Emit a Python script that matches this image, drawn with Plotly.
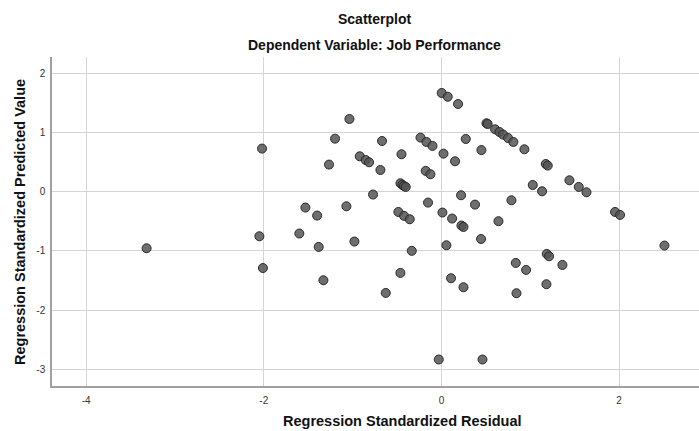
import plotly.graph_objects as go

# Regression standardized residual (x) and predicted value (y)
residual = [
    -3.32, -2.02, -2.05, -2.01,
    0.003, 0.071, 0.187, -1.036, -1.198, -0.669, -0.236, -0.169, -0.101, 0.274,
    0.45, -0.92, -0.853, -0.815, -1.266, -0.45, 0.023, 0.153, -0.687, -0.177,
    -0.124, -0.462, -0.44, -0.421, -0.402, -0.77, -0.151, 0.221, 0.378, -1.532,
    -1.40, -1.07, -0.485, -0.421, -0.357, 0.011, 0.12,
    -1.6, -1.382, -0.98, -1.329, -0.334, -0.462, -0.627, -0.03, 0.056, 0.108,
    0.248, 0.225, 0.248, 0.446,
    0.507, 0.52, 0.604, 0.653, 0.694, 0.75, 0.81, 0.934, 1.175, 1.197, 1.441,
    1.546, 1.633, 1.028, 1.133, 0.788, 0.642, 1.955, 2.011, 2.511, 1.186,
    1.212, 0.837, 0.953, 1.362, 1.182, 0.845, 0.462,
]
predicted = [
    -0.956, 0.725, -0.754, -1.29,
    1.663, 1.60, 1.477, 1.224, 0.893, 0.853, 0.91, 0.837, 0.77, 0.887,
    0.70, 0.595, 0.533, 0.494, 0.455, 0.629, 0.64, 0.511, 0.364, 0.348,
    0.292, 0.14, 0.112, 0.094, 0.078, -0.05, -0.186, -0.062, -0.22, -0.27,
    -0.405, -0.248, -0.344, -0.41, -0.467, -0.354, -0.455,
    -0.708, -0.934, -0.843, -1.496, -1.0, -1.372, -1.71, -2.833, -0.906, -1.462,
    -1.614, -0.573, -0.597, -0.80,
    1.152, 1.14, 1.05, 1.005, 0.961, 0.904, 0.837, 0.713, 0.465, 0.438, 0.19,
    0.078, -0.012, 0.111, 0.005, -0.147, -0.50, -0.344, -0.394, -0.911, -1.052,
    -1.091, -1.204, -1.322, -1.238, -1.563, -1.715, -2.833,
]

x_ticks = [-4, -2, 0, 2]
y_ticks = [-3, -2, -1, 0, 1, 2]

title_text = "Scatterplot"
subtitle_text = "Dependent Variable: Job Performance"
x_title = "Regression Standardized Residual"
y_title = "Regression Standardized Predicted Value"

FONT = "Liberation Sans, Arial, sans-serif"
W, H = 699, 431
ML, MR, MT, MB = 52, 0, 57, 45
PW, PH = W - ML - MR, H - MT - MB


def py(pix_y):
    return (H - MB - pix_y) / PH


def px(pix_x):
    return (pix_x - ML) / PW


fig = go.Figure(go.Scatter(
    x=residual, y=predicted, mode="markers",
    marker=dict(size=9, color="rgba(85,85,85,0.85)",
                line=dict(color="#2a2a2a", width=1)),
    hoverinfo="x+y",
))

fig.update_layout(
    width=W, height=H,
    margin=dict(l=ML, r=MR, t=MT, b=MB, autoexpand=False),
    paper_bgcolor="white", plot_bgcolor="white",
    showlegend=False,
    font=dict(family=FONT, color="#333333"),
    xaxis=dict(
        range=[-4.385, 2.90], tickvals=x_ticks, ticktext=[str(v) for v in x_ticks],
        showgrid=True, gridcolor="#d4d4d4", gridwidth=1,
        zeroline=False, showline=True, linecolor="#a0a0a0", linewidth=1.5,
        ticks="", tickfont=dict(size=10, color="#333333"), ticklabelstandoff=4,
    ),
    yaxis=dict(
        range=[-3.28, 2.27], tickvals=y_ticks, ticktext=[str(v) for v in y_ticks],
        showgrid=True, gridcolor="#d4d4d4", gridwidth=1,
        zeroline=False, showline=True, linecolor="#a0a0a0", linewidth=1.5,
        ticks="", tickfont=dict(size=10, color="#333333"), ticklabelstandoff=3,
    ),
    annotations=[
        dict(text=f"<b>{title_text}</b>", xref="paper", yref="paper",
             x=px(374), y=py(19), xanchor="center", yanchor="middle",
             showarrow=False, font=dict(size=14, color="#111111", family=FONT)),
        dict(text=f"<b>{subtitle_text}</b>", xref="paper", yref="paper",
             x=px(374), y=py(45), xanchor="center", yanchor="middle",
             showarrow=False, font=dict(size=14, color="#111111", family=FONT)),
        dict(text=f"<b>{x_title}</b>", xref="paper", yref="paper",
             x=px(402), y=py(421), xanchor="center", yanchor="middle",
             showarrow=False, font=dict(size=14.5, color="#111111", family=FONT)),
        dict(text=f"<b>{y_title}</b>", xref="paper", yref="paper",
             x=px(20), y=py(222), xanchor="center", yanchor="middle",
             textangle=-90,
             showarrow=False, font=dict(size=14.5, color="#111111", family=FONT)),
    ],
)

fig.write_html("out.html", config={"displayModeBar": False},
               post_script="document.body.style.margin='0px';")
